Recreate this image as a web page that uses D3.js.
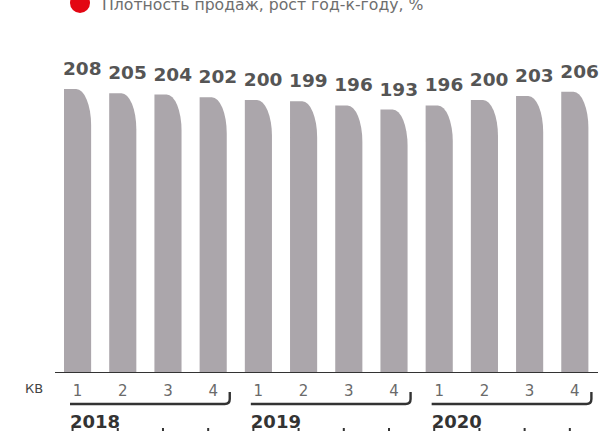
<!DOCTYPE html>
<html>
<head>
<meta charset="utf-8">
<script src="https://cdn.jsdelivr.net/npm/d3@7"></script>
<style>
  body { margin: 0; background: #fff; }
  svg { display: block; font-family: "DejaVu Sans", Verdana, sans-serif; }
</style>
</head>
<body>
<svg id="chart" width="600" height="431"></svg>
<script>
// data
var quarters = ["1", "2", "3", "4", "1", "2", "3", "4", "1", "2", "3", "4"];
var values = [208, 205, 204, 202, 200, 199, 196, 193, 196, 200, 203, 206];
var years = ["2018", "2019", "2020"];
var legendText = "Плотность продаж, рост год-к-году, %";
var unitLabel = "КВ";

var svg = d3.select("#chart");

var x = d3.scaleBand()
    .domain(d3.range(values.length))
    .range([41.4, 611])
    .paddingInner(0.4)
    .paddingOuter(0.5);

var baseY = 372;
var y = d3.scaleLinear()
    .domain([0, 220])
    .range([baseY, baseY - 220 * 1.36]);

var barColor = "#aba6ab";
var textDark = "#555555";

// legend (top is cut off like the original)
svg.append("circle")
    .attr("cx", 80).attr("cy", 3).attr("r", 10)
    .attr("fill", "#e30613");
svg.append("text")
    .attr("x", 102).attr("y", 10)
    .attr("font-size", 15.7)
    .attr("fill", "#6e6e6e")
    .text(legendText);

// bars: flat top-left, elliptical top-right corner
var bw = x.bandwidth();
function barPath(d, i) {
    var x0 = x(i), x1 = x0 + bw, top = y(d);
    var rx = bw * 0.55, ry = 36;
    return "M" + x0 + "," + baseY +
        "V" + top +
        "H" + (x1 - rx) +
        "A" + rx + "," + ry + " 0 0 1 " + x1 + "," + (top + ry) +
        "V" + baseY + "Z";
}

svg.append("g")
    .selectAll("path")
    .data(values)
    .enter()
    .append("path")
    .attr("d", barPath)
    .attr("fill", barColor);

// value labels
svg.append("g")
    .selectAll("text")
    .data(values)
    .enter()
    .append("text")
    .attr("x", function (d, i) { return x(i) - 1; })
    .attr("y", function (d) { return y(d) - 14; })
    .attr("font-size", 18.5)
    .attr("font-weight", "bold")
    .attr("fill", textDark)
    .text(function (d) { return d; });

// baseline
svg.append("line")
    .attr("x1", 55).attr("x2", 598)
    .attr("y1", baseY + 0.5).attr("y2", baseY + 0.5)
    .attr("stroke", "#333")
    .attr("stroke-width", 1.2);

// quarter axis
svg.append("text")
    .attr("x", 25).attr("y", 393)
    .attr("font-size", 13)
    .attr("fill", "#444")
    .text(unitLabel);

svg.append("g")
    .selectAll("text")
    .data(quarters)
    .enter()
    .append("text")
    .attr("x", function (d, i) { return x(i) + bw / 2; })
    .attr("y", 396)
    .attr("text-anchor", "middle")
    .attr("font-size", 15)
    .attr("fill", "#6a6a6a")
    .text(function (d) { return d; });

// year brackets
years.forEach(function (yr, k) {
    var first = k * 4, last = k * 4 + 3;
    var sx = x(first) + 6, ex = x(last) + bw + 3;
    svg.append("path")
        .attr("d", "M" + sx + ",404H" + (ex - 5) + "Q" + ex + ",404 " + ex + ",399V392")
        .attr("fill", "none")
        .attr("stroke", "#333")
        .attr("stroke-width", 2.4);
    svg.append("text")
        .attr("x", x(first) + 6)
        .attr("y", 428)
        .attr("font-size", 18)
        .attr("font-weight", "bold")
        .attr("fill", "#333")
        .text(yr);
});

// cut-off marks below the years
svg.append("g")
    .selectAll("rect")
    .data(quarters)
    .enter()
    .append("rect")
    .attr("x", function (d, i) { return x(i) + bw / 2 - 6; })
    .attr("y", 428)
    .attr("width", 2)
    .attr("height", 4)
    .attr("fill", "#333");
</script>
</body>
</html>
